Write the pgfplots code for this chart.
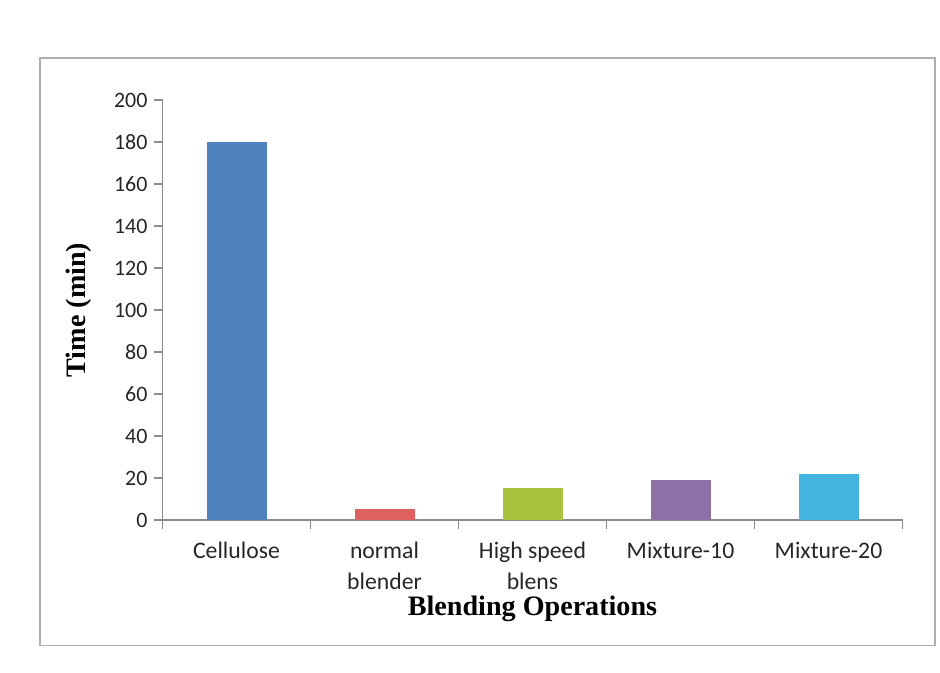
\documentclass[border=0pt]{standalone}
\usepackage{pgfplots}
\pgfplotsset{compat=1.18}
\usepackage{fontspec}
\setmainfont{Carlito}
\newfontfamily\titlefont{Liberation Serif}

\definecolor{xlblue}{HTML}{4F81BD}
\definecolor{xlred}{HTML}{E0625F}
\definecolor{xlgreen}{HTML}{A8C23E}
\definecolor{xlpurple}{HTML}{8E6FA8}
\definecolor{xlaqua}{HTML}{43B3E0}
\definecolor{axisgray}{HTML}{8C8C8C}

\begin{document}
\begin{tikzpicture}[x=1cm,y=1cm]
  % page area and chart frame
  \path[use as bounding box] (0,0) rectangle (18.8,13.46);
  \draw[axisgray!70, line width=0.6pt] (0.8,0.55) rectangle (18.7,12.3);

  \begin{axis}[
    at={(3.25cm,3.06cm)}, anchor=south west,
    width=14.8cm, height=8.4cm, scale only axis,
    xmin=-0.5, xmax=4.5, ymin=0, ymax=200,
    ytick={0,20,...,200},
    % tick marks sit between the categories
    xtick={-0.5,0.5,...,4.5},
    xticklabels={},
    % category names are placed by label-only extra ticks
    extra x ticks={0,1,2,3,4},
    extra x tick labels={Cellulose, {normal\\blender}, {High speed\\blens}, Mixture-10, Mixture-20},
    extra x tick style={major tick length=0pt,
      xticklabel style={align=center, anchor=north, font=\fontsize{13.5}{17.5}\selectfont, text=black!85, yshift=-9pt}},
    yticklabel style={font=\fontsize{12.5}{14}\selectfont, text=black!85},
    /pgf/number format/assume math mode=true,
    tick align=outside,
    major tick length=5pt,
    tick style={axisgray, line width=0.6pt},
    axis x line*=bottom, axis y line*=left,
    axis line style={axisgray, line width=0.6pt, -},
    ybar, bar width=1.2cm, bar shift=0pt,
    xlabel={\titlefont\bfseries Blending Operations},
    ylabel={\titlefont\bfseries Time (min)},
    xlabel style={font=\fontsize{16}{18}\selectfont,
      at={(axis description cs:0.5,0)}, anchor=north, yshift=-1.4cm},
    ylabel style={font=\fontsize{16}{18}\selectfont, yshift=6pt},
  ]
    \addplot[fill=xlblue,   draw=none] coordinates {(0,180)};
    \addplot[fill=xlred,    draw=none] coordinates {(1,5)};
    \addplot[fill=xlgreen,  draw=none] coordinates {(2,15)};
    \addplot[fill=xlpurple, draw=none] coordinates {(3,19)};
    \addplot[fill=xlaqua,   draw=none] coordinates {(4,22)};
  \end{axis}
\end{tikzpicture}
\end{document}
